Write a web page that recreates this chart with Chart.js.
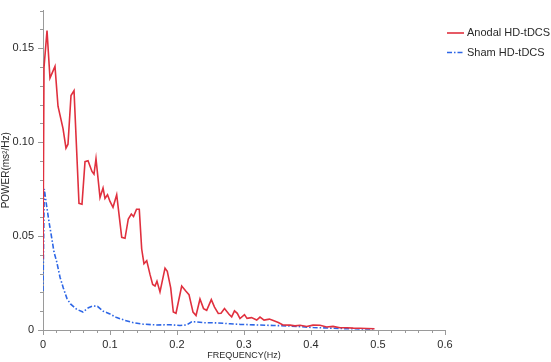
<!DOCTYPE html>
<html>
<head>
<meta charset="utf-8">
<script src="https://cdn.jsdelivr.net/npm/chart.js@4/dist/chart.umd.min.js"></script>
<style>
html,body{margin:0;padding:0;background:#fff;}
#wrap{width:551px;height:362px;}
</style>
</head>
<body>
<div id="wrap"><canvas id="c" width="551" height="362"></canvas></div>
<script>
const seriesNames = ['Anodal HD-tDCS', 'Sham HD-tDCS'];

const freqAnodal = [0,0.0015,0.006,0.0104,0.0179,0.0224,0.0299,0.0343,0.0373,0.0418,0.0463,0.0537,0.0582,0.0627,0.0672,0.0731,0.0761,0.0791,0.0851,0.0896,0.0925,0.0963,0.1,0.1045,0.11,0.1175,0.1224,0.1273,0.1318,0.1351,0.1396,0.1437,0.1473,0.1507,0.1548,0.1597,0.1637,0.1672,0.1701,0.1746,0.1821,0.1855,0.1906,0.1945,0.1985,0.207,0.2134,0.2179,0.2239,0.2284,0.2343,0.2396,0.2443,0.2512,0.256,0.2616,0.2657,0.2709,0.2776,0.2816,0.2858,0.29,0.294,0.3007,0.3045,0.3112,0.319,0.3239,0.3299,0.3378,0.3437,0.3512,0.3582,0.3687,0.3761,0.3836,0.3936,0.403,0.4134,0.4234,0.4328,0.4433,0.4533,0.4631,0.4731,0.4831,0.4948];
const powerAnodal = [0.0379,0.1398,0.1594,0.1341,0.1403,0.1191,0.1072,0.0968,0.0989,0.1248,0.1274,0.0674,0.0669,0.0896,0.0901,0.0844,0.0829,0.0912,0.0705,0.0756,0.07,0.072,0.0684,0.0653,0.072,0.0493,0.0488,0.0591,0.0617,0.0604,0.0643,0.0643,0.0431,0.0353,0.0369,0.0296,0.0242,0.0234,0.026,0.0203,0.0329,0.0312,0.0224,0.0096,0.0089,0.0234,0.0206,0.0188,0.0095,0.0077,0.0165,0.0114,0.0105,0.0162,0.0122,0.0088,0.0089,0.0114,0.0084,0.007,0.0102,0.0089,0.0061,0.0082,0.0062,0.0066,0.0053,0.0069,0.0053,0.0058,0.005,0.004,0.0027,0.0026,0.0022,0.0025,0.0019,0.0026,0.0025,0.0016,0.0019,0.0012,0.0012,0.001,0.0009,0.0008,0.0007];

const freqSham = [0,0.0019,0.0055,0.0097,0.0134,0.0164,0.0204,0.0254,0.0303,0.0358,0.041,0.0503,0.0597,0.0679,0.0746,0.0813,0.09,0.099,0.11,0.1224,0.1348,0.1497,0.1697,0.1896,0.2045,0.2145,0.2219,0.2284,0.2393,0.2593,0.2791,0.294,0.319,0.3437,0.3637,0.3787,0.4034,0.4284,0.4533,0.493];
const powerSham = [0.0208,0.0751,0.0658,0.056,0.0482,0.0415,0.0364,0.0281,0.0224,0.0167,0.0139,0.011,0.0096,0.0119,0.0128,0.0126,0.01,0.0087,0.0066,0.0051,0.0039,0.0031,0.0027,0.0028,0.0024,0.0027,0.0044,0.0043,0.0039,0.0038,0.0033,0.003,0.0027,0.0024,0.0022,0.0019,0.0013,0.001,0.0007,0.0005];

const xTicks = [0, 0.1, 0.2, 0.3, 0.4, 0.5, 0.6];
const xTickLabels = ['0', '0.1', '0.2', '0.3', '0.4', '0.5', '0.6'];
const yTicks = [0, 0.05, 0.10, 0.15];
const yTickLabels = ['0', '0.05', '0.10', '0.15'];
const xTitle = 'FREQUENCY(Hz)';
const yTitle = 'POWER(ms\u00B2/Hz)';

const RED = '#e0303e';
const BLUE = '#2d66e6';
const AXIS = '#9a9a9a';
const TEXT = '#2a2a2a';
const FONT = '"Liberation Sans", Arial, Helvetica, sans-serif';

const minorTicks = {
  id: 'minorTicks',
  afterDraw(chart) {
    const ctx = chart.ctx;
    const xs = chart.scales.x, ys = chart.scales.y;
    ctx.save();
    ctx.strokeStyle = AXIS;
    ctx.lineWidth = 1;
    ctx.beginPath();
    for (let i = 0; i <= 30; i++) {
      if (i % 5 === 0) continue;
      const px = Math.round(xs.getPixelForValue(i * 0.02)) + 0.5;
      ctx.moveTo(px, xs.top);
      ctx.lineTo(px, xs.top + 3);
    }
    for (let i = 0; i <= 17; i++) {
      if (i % 5 === 0) continue;
      const py = Math.round(ys.getPixelForValue(i * 0.01)) + 0.5;
      ctx.moveTo(ys.right, py);
      ctx.lineTo(ys.right - 3, py);
    }
    ctx.stroke();
    ctx.restore();
  }
};

const customLegend = {
  id: 'customLegend',
  afterDraw(chart) {
    const ctx = chart.ctx;
    ctx.save();
    ctx.font = '11px ' + FONT;
    ctx.textBaseline = 'middle';
    ctx.fillStyle = TEXT;
    chart.data.datasets.forEach((ds, i) => {
      const y = 33 + i * 19.5;
      ctx.strokeStyle = ds.borderColor;
      ctx.lineWidth = ds.borderWidth;
      ctx.setLineDash(ds.borderDash || []);
      ctx.beginPath();
      ctx.moveTo(447, y);
      ctx.lineTo(464, y);
      ctx.stroke();
      ctx.setLineDash([]);
      ctx.fillText(ds.label, 467, y);
    });
    ctx.restore();
  }
};

new Chart(document.getElementById('c'), {
  type: 'line',
  data: {
    datasets: [
      {
        label: seriesNames[0],
        data: freqAnodal.map((f, i) => ({x: f, y: powerAnodal[i]})),
        borderColor: RED,
        borderWidth: 1.6,
        pointRadius: 0,
        tension: 0,
        fill: false
      },
      {
        label: seriesNames[1],
        data: freqSham.map((f, i) => ({x: f, y: powerSham[i]})),
        borderColor: BLUE,
        borderWidth: 1.6,
        borderDash: [5, 2, 1.5, 2],
        pointRadius: 0,
        tension: 0,
        fill: false
      }
    ]
  },
  options: {
    responsive: false,
    animation: false,
    layout: {padding: {top: 2, right: 106, left: 0, bottom: 0}},
    plugins: {legend: {display: false}, tooltip: {enabled: false}},
    scales: {
      x: {
        type: 'linear',
        min: 0, max: 0.6,
        afterFit: s => { s.height = 32; },
        afterBuildTicks: s => { s.ticks = xTicks.map(v => ({value: v})); },
        grid: {drawOnChartArea: false, tickLength: 5, tickColor: AXIS, color: AXIS},
        border: {color: AXIS, width: 1},
        ticks: {
          autoSkip: false, maxRotation: 0, padding: 3,
          color: TEXT, font: {family: FONT, size: 11},
          callback: (v) => { const k = xTicks.findIndex(t => Math.abs(t - v) < 1e-9); return k >= 0 ? xTickLabels[k] : ''; }
        },
        title: {display: true, text: xTitle, color: TEXT, font: {family: FONT, size: 9}, padding: {top: 0, bottom: 1}}
      },
      y: {
        type: 'linear',
        min: 0, max: 0.17,
        afterFit: s => { s.width = 43; },
        afterBuildTicks: s => { s.ticks = yTicks.map(v => ({value: v})); },
        grid: {drawOnChartArea: false, tickLength: 5, tickColor: AXIS, color: AXIS},
        border: {color: AXIS, width: 1},
        ticks: {
          autoSkip: false, padding: 4,
          color: TEXT, font: {family: FONT, size: 11},
          callback: (v) => { const k = yTicks.findIndex(t => Math.abs(t - v) < 1e-9); return k >= 0 ? yTickLabels[k] : ''; }
        },
        title: {display: true, text: yTitle, color: TEXT, font: {family: FONT, size: 10}, padding: {top: 0, bottom: 0}}
      }
    }
  },
  plugins: [minorTicks, customLegend]
});
</script>
</body>
</html>
